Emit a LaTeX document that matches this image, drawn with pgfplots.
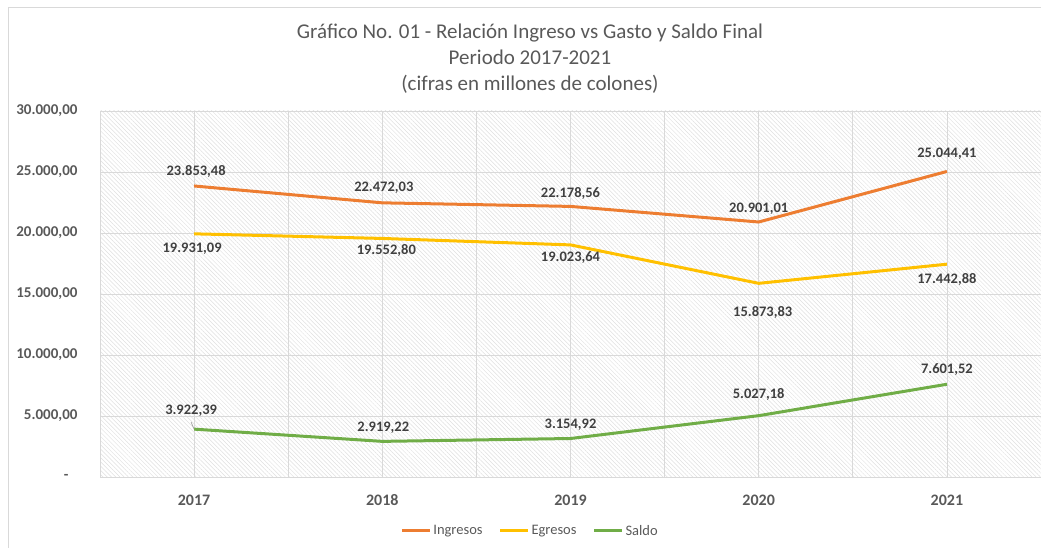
\documentclass[border=0pt]{standalone}
\usepackage{pgfplots}
\pgfplotsset{compat=1.18}
\usepackage{pgfplotstable}
\usepackage{fontspec}
\setmainfont{Carlito}
\usetikzlibrary{patterns.meta}
\definecolor{cIng}{HTML}{ED7D31}
\definecolor{cEgr}{HTML}{FFC000}
\definecolor{cSal}{HTML}{70AD47}
\definecolor{txt}{HTML}{595959}
\definecolor{labc}{HTML}{404040}
\definecolor{gridc}{HTML}{D9D9D9}

\pgfplotstableread{
x y lab dx dy
0 23853.48 23.853,48 2 15
1 22472.03 22.472,03 1.5 15.5
2 22178.56 22.178,56 0 13
3 20901.01 20.901,01 0 13
4 25044.41 25.044,41 0 18
}\ingresos
\pgfplotstableread{
x y lab dx dy
0 19931.09 19.931,09 -2 -15
1 19552.80 19.552,80 4 -12
2 19023.64 19.023,64 0 -13
3 15873.83 15.873,83 4 -29
4 17442.88 17.442,88 0 -15
}\egresos
\pgfplotstableread{
x y lab dx dy
0 3922.39 3.922,39 -3 18
1 2919.22 2.919,22 1 14
2 3154.92 3.154,92 0 14
3 5027.18 5.027,18 0 21
4 7601.52 7.601,52 0 15
}\saldo

\begin{document}
\begin{tikzpicture}[x=1bp,y=1bp]
\path[use as bounding box] (0,0) rectangle (1041,548);
\draw[gridc, line width=1bp] (8.5,0) -- (8.5,540.5) -- (1041,540.5);
\node[text=txt, align=center, font=\fontsize{21bp}{26bp}\selectfont] at (530,489)
  {Gráfico No. 01 - Relación Ingreso vs Gasto y Saldo Final\\Periodo 2017-2021\\(cifras en millones de colones)};
\begin{axis}[
  at={(100bp,71bp)}, anchor=south west,
  scale only axis, width=941bp, height=366bp,
  xmin=-0.5, xmax=4.5, ymin=0, ymax=30000,
  scaled y ticks=false,
  axis background/.style={pattern={Lines[angle=-45,distance=3bp,line width=0.5bp]}, pattern color=gray!25},
  axis line style={draw=gridc},
  xtick={0,1,2,3,4},
  xticklabels={2017,2018,2019,2020,2021},
  minor xtick={-0.5,0.5,1.5,2.5,3.5,4.5},
  ytick={0,5000,10000,15000,20000,25000,30000},
  yticklabels={{-\hspace*{9bp}},{5.000,00},{10.000,00},{15.000,00},{20.000,00},{25.000,00},{30.000,00}},
  xmajorgrids, xminorgrids, ymajorgrids,
  grid style={draw=gridc, line width=0.75bp},
  minor grid style={draw=gridc, line width=0.75bp},
  major tick length=0pt, minor tick length=0pt,
  xticklabel style={font=\fontsize{16bp}{16bp}\selectfont\bfseries, text=txt, yshift=-14bp},
  yticklabel style={font=\fontsize{15bp}{15bp}\selectfont\bfseries, text=txt, xshift=-19bp},
  legend columns=3,
  legend style={draw=none, fill=none, at={(0.457,-0.1475)}, anchor=center,
    font=\fontsize{14.5bp}{14.5bp}\selectfont, text=txt,
    /tikz/every even column/.append style={column sep=14bp}},
  legend image code/.code={\draw[#1, line width=3bp] (0,0) -- (28bp,0);},
  nodes near coords,
  point meta=explicit symbolic,
  visualization depends on={\thisrow{dx}\as\dx},
  visualization depends on={\thisrow{dy}\as\dy},
  nodes near coords style={font=\fontsize{14.5bp}{14.5bp}\selectfont\bfseries, text=labc, anchor=center, xshift=\dx bp, yshift=\dy bp},
  clip=false,
]
\addplot[cIng, line width=3bp, mark=none] table[x=x, y=y, meta=lab] {\ingresos};
\addlegendentry{Ingresos}
\addplot[cEgr, line width=3bp, mark=none] table[x=x, y=y, meta=lab] {\egresos};
\addlegendentry{Egresos}
\addplot[cSal, line width=3bp, mark=none] table[x=x, y=y, meta=lab] {\saldo};
\addlegendentry{Saldo}
\draw[gray!70, line width=0.75bp] (axis cs:0,3922.39) -- ++(-3bp,7bp);
\end{axis}
\end{tikzpicture}
\end{document}
